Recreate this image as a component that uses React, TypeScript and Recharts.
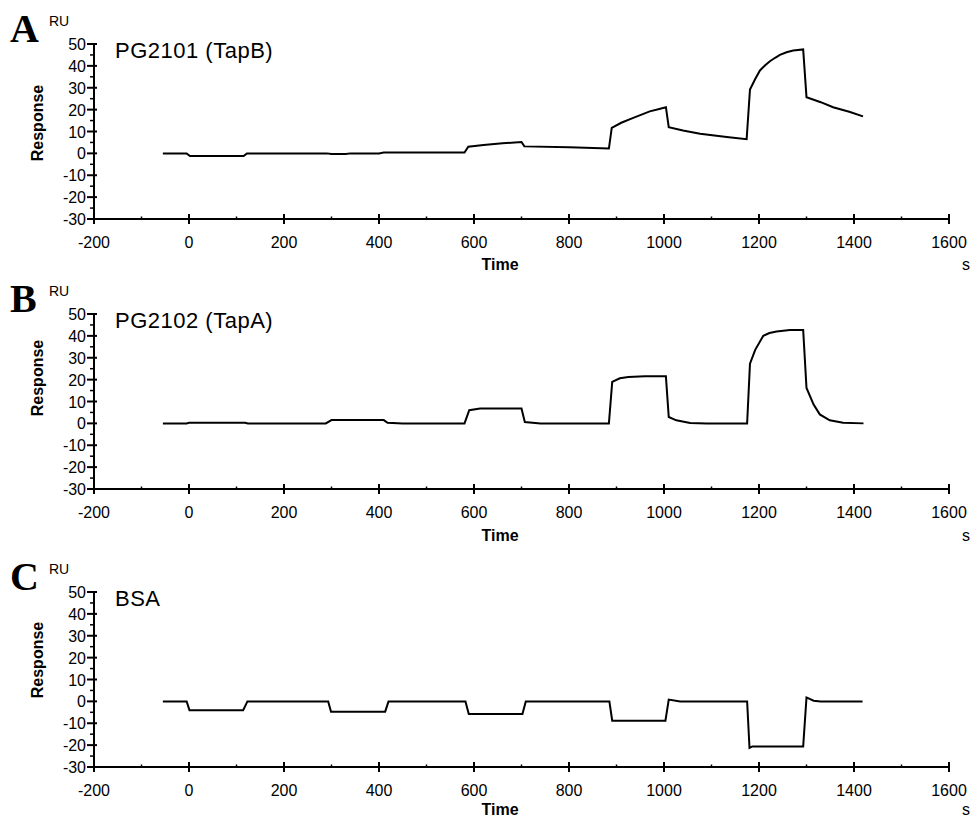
import { Line, LineChart, XAxis, YAxis } from "recharts";

// axis ticks: majors get a label, minors are just short marks
const timeTicks = [
  -200, -100, 0, 100, 200, 300, 400, 500, 600, 700, 800, 900, 1000, 1100, 1200, 1300, 1400, 1500, 1600,
];
const responseTicks = [-30, -25, -20, -15, -10, -5, 0, 5, 10, 15, 20, 25, 30, 35, 40, 45, 50];

// panel A: PG2101 (TapB)
const tapBTime = [
  -55, -5, 2, 115, 122, 290, 300, 330, 340, 400, 410, 580, 588, 620, 660, 700, 706, 800, 884, 890, 910,
  930, 950, 970, 990, 1004, 1010, 1040, 1076, 1132, 1174, 1181, 1192, 1202, 1213, 1223, 1234, 1244, 1258,
  1272, 1293, 1300, 1330, 1356, 1390, 1419,
];
const tapBResponse = [
  0, 0, -1.2, -1.2, 0, 0, -0.3, -0.3, 0, 0, 0.4, 0.4, 3, 3.8, 4.6, 5.2, 3.2, 2.8, 2.2, 11.7, 14, 15.8,
  17.5, 19.2, 20.3, 21.1, 12, 10.5, 9, 7.5, 6.5, 29.2, 34, 37.9, 40.3, 42.1, 43.7, 45, 46.2, 47, 47.5,
  25.7, 23.4, 21.1, 19, 16.9,
];

// panel B: PG2102 (TapA)
const tapATime = [
  -55, -5, 0, 118, 124, 288, 300, 410, 418, 450, 580, 590, 613, 700, 707, 740, 884, 891, 907, 925, 960,
  1004, 1010, 1026, 1055, 1090, 1175, 1181, 1192, 1209, 1222, 1237, 1265, 1293, 1300, 1315, 1328, 1349,
  1377, 1420,
];
const tapAResponse = [
  0, 0, 0.3, 0.3, 0, 0, 1.5, 1.5, 0.3, 0, 0, 6, 6.8, 6.8, 0.6, 0, 0, 19, 20.6, 21.2, 21.5, 21.5, 2.9,
  1.4, 0.2, 0, 0, 27.3, 33.6, 40, 41.3, 42, 42.7, 42.7, 16.2, 8.6, 4.1, 1.4, 0.3, 0,
];

// panel C: BSA control
const bsaTime = [
  -55, -5, 1, 114, 123, 293, 299, 413, 420, 582, 589, 702, 709, 885, 891, 1003, 1010, 1034, 1175, 1180,
  1186, 1293, 1300, 1315, 1330, 1418,
];
const bsaResponse = [
  0, 0, -4, -4, 0, 0, -4.7, -4.7, 0, 0, -5.8, -5.8, 0, 0, -8.8, -8.8, 0.8, 0, 0, -21.3, -20.6, -20.6,
  1.8, 0.3, 0, 0,
];

const panels = [
  { letter: "A", title: "PG2101 (TapB)", time: tapBTime, response: tapBResponse, top: 44, responseY: 123, labelY: 270 },
  { letter: "B", title: "PG2102 (TapA)", time: tapATime, response: tapAResponse, top: 314, responseY: 378, labelY: 541 },
  { letter: "C", title: "BSA", time: bsaTime, response: bsaResponse, top: 592, responseY: 660, labelY: 815 },
];

const font = "'Liberation Sans', Arial, Helvetica, sans-serif";
const PLOT_H = 175;
const TOP_PAD = 30;

function TimeTick({ x, y, payload }: any) {
  const v = payload.value;
  if (v % 200 !== 0) {
    return <line x1={x} x2={x} y1={y - 2.5} y2={y} stroke="#000" strokeWidth={1.5} />;
  }
  return (
    <g>
      <line x1={x} x2={x} y1={y - 5} y2={y + 5} stroke="#000" strokeWidth={2} />
      <text x={x} y={y + 29} textAnchor="middle" fontSize={16} fontFamily={font} fill="#000">
        {v}
      </text>
    </g>
  );
}

function ResponseTick({ x, y, payload }: any) {
  const v = payload.value;
  if (v % 10 !== 0) {
    return <line x1={x - 4} x2={x} y1={y} y2={y} stroke="#000" strokeWidth={1.5} />;
  }
  return (
    <g>
      <line x1={x - 7} x2={x + 3} y1={y} y2={y} stroke="#000" strokeWidth={2} />
      <text x={x - 8} y={y + 6} textAnchor="end" fontSize={16} fontFamily={font} fill="#000">
        {v}
      </text>
    </g>
  );
}

function Sensorgram({ time, response, top }: { time: number[]; response: number[]; top: number }) {
  const rows = time.map((t, i) => ({ t, r: response[i] }));
  return (
    <div style={{ position: "absolute", left: 0, top: top - TOP_PAD }}>
      <LineChart
        width={972}
        height={TOP_PAD + PLOT_H + 50}
        data={rows}
        margin={{ top: TOP_PAD, right: 23, bottom: 0, left: 34 }}
      >
        <XAxis
          type="number"
          dataKey="t"
          domain={[-200, 1600]}
          ticks={timeTicks}
          interval={0}
          tickSize={0}
          tickMargin={0}
          tickLine={false}
          axisLine={{ stroke: "#000", strokeWidth: 2 }}
          tick={<TimeTick />}
          height={50}
        />
        <YAxis
          type="number"
          domain={[-30, 50]}
          ticks={responseTicks}
          interval={0}
          tickSize={0}
          tickMargin={0}
          tickLine={false}
          axisLine={{ stroke: "#000", strokeWidth: 2 }}
          tick={<ResponseTick />}
          width={60}
        />
        <Line
          type="linear"
          dataKey="r"
          stroke="#000"
          strokeWidth={2}
          dot={false}
          isAnimationActive={false}
        />
      </LineChart>
    </div>
  );
}

export default function App() {
  return (
    <div style={{ position: "absolute", left: 0, top: 0, width: 972, height: 818, background: "#fff" }}>
      {panels.map((p) => (
        <Sensorgram key={p.letter} time={p.time} response={p.response} top={p.top} />
      ))}
      <svg
        width={972}
        height={818}
        style={{ position: "absolute", left: 0, top: 0, pointerEvents: "none" }}
      >
        {panels.map((p) => (
          <g key={p.letter} fill="#000">
            <text
              x={10}
              y={p.top - 2}
              fontFamily="'Liberation Serif', 'Times New Roman', serif"
              fontWeight="bold"
              fontSize={40}
            >
              {p.letter}
            </text>
            <text x={49} y={p.top - 18} fontFamily={font} fontSize={14}>
              RU
            </text>
            <text x={115} y={p.top + 14} fontFamily={font} fontSize={22} letterSpacing={0.5}>
              {p.title}
            </text>
            <text
              x={37}
              y={p.responseY}
              transform={`rotate(-90 37 ${p.responseY})`}
              textAnchor="middle"
              dominantBaseline="central"
              fontFamily={font}
              fontWeight="bold"
              fontSize={16}
            >
              Response
            </text>
            <text x={500} y={p.labelY} textAnchor="middle" fontFamily={font} fontWeight="bold" fontSize={16}>
              Time
            </text>
            <text x={962} y={p.labelY} fontFamily={font} fontSize={16}>
              s
            </text>
          </g>
        ))}
      </svg>
    </div>
  );
}
